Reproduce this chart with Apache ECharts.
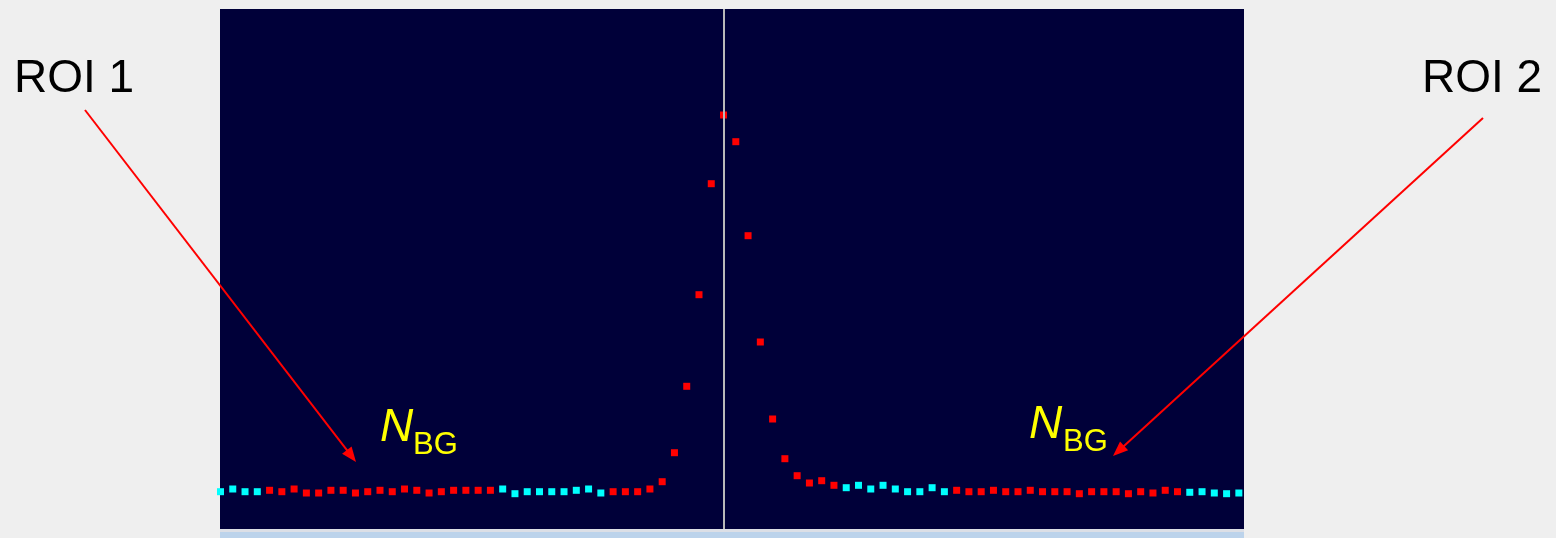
<!DOCTYPE html>
<html>
<head>
<meta charset="utf-8">
<script src="https://cdn.jsdelivr.net/npm/echarts@6/dist/echarts.min.js"></script>
<style>
html,body{margin:0;padding:0;background:#efefef;}
#chart{width:1556px;height:538px;}
</style>
</head>
<body>
<div id="chart"></div>
<script>
// Channel counts, channels 0..83
const counts = [
  37.3, 40, 37.3, 37.3, 38.7, 37.3, 40, 36, 36, 38.7,
  38.7, 36, 37.3, 38.7, 37.3, 40, 38.7, 36, 37.3, 38.7,
  38.7, 38.7, 38.7, 40, 35.3, 37.3, 37.3, 37.3, 37.3, 38.7,
  40, 36, 37.3, 37.3, 37.3, 40, 47.3, 76.3, 142.7, 234.3,
  345.3, 414, 387.3, 293.3, 187, 110, 70.3, 53.3, 46, 48.3,
  43.7, 41.3, 43.7, 40, 43.7, 40, 37.3, 37.3, 41.3, 37.3,
  38.7, 37.3, 37.3, 38.7, 37.3, 37.3, 38.7, 37.3, 37.3, 37.3,
  35.3, 37.3, 37.3, 37.3, 35.3, 37.3, 36, 38.7, 37.3, 36.7,
  37.3, 36, 35.3, 36
];
// Background (cyan) channel ranges [start, end] inclusive
const bgRanges = [[0, 3], [23, 31], [51, 59], [79, 83]];
const centroidChannel = 41;
const roiLabels = ['ROI 1', 'ROI 2'];
const bgLabelMain = 'N';
const bgLabelSub = 'BG';

function isBg(i) { return bgRanges.some(r => i >= r[0] && i <= r[1]); }
const bgData = [], roiData = [];
counts.forEach((v, i) => { (isBg(i) ? bgData : roiData).push([i, v]); });

const chart = echarts.init(document.getElementById('chart'));

function arrow(x1, y1, x2, y2) {
  const len = 15, half = 6;
  const dx = x2 - x1, dy = y2 - y1, d = Math.hypot(dx, dy);
  const ux = dx / d, uy = dy / d;
  const bx = x2 - ux * len, by = y2 - uy * len;
  return [
    { type: 'line', shape: { x1: x1, y1: y1, x2: bx + ux * 2, y2: by + uy * 2 },
      style: { stroke: '#ff0000', lineWidth: 2 }, z: 100 },
    { type: 'polygon', shape: { points: [[x2, y2], [bx - uy * half, by + ux * half], [bx + uy * half, by - ux * half]] },
      style: { fill: '#ff0000' }, z: 100 }
  ];
}

const txt = (x, y, text, size, color, italic) => ({
  type: 'text', left: x, top: y, z: 100,
  style: { text: text, fontSize: size, fill: color, fontFamily: 'Liberation Sans, Arial, sans-serif',
           fontStyle: italic ? 'italic' : 'normal' }
});

chart.setOption({
  animation: false,
  backgroundColor: '#efefef',
  grid: { left: 220, right: 312, top: 9, height: 520, backgroundColor: '#000039', show: true, borderWidth: 0 },
  xAxis: { type: 'value', min: -0.04, max: 83.42, show: false },
  yAxis: { type: 'value', min: 0, max: 520, show: false },
  series: [
    { type: 'scatter', symbol: 'rect', symbolSize: 7, data: roiData, clip: true,
      itemStyle: { color: '#ff0000', opacity: 1 },
      markLine: { silent: true, symbol: 'none', label: { show: false },
        lineStyle: { color: '#b8b8b8', width: 2, type: 'solid' },
        data: [{ xAxis: centroidChannel }] }, z: 3 },
    { type: 'scatter', symbol: 'rect', symbolSize: 7, data: bgData, clip: true,
      itemStyle: { color: '#00ffff', opacity: 1 }, z: 3 }
  ],
  graphic: [
    { type: 'rect', shape: { x: 220, y: 529, width: 1024, height: 3 }, style: { fill: '#dcdfe6' } },
    { type: 'rect', shape: { x: 220, y: 532, width: 1024, height: 6 }, style: { fill: '#bcd3eb' } },
    txt(14, 56, roiLabels[0], 46, '#000000', false),
    txt(1422, 56, roiLabels[1], 46, '#000000', false),
    ...arrow(85, 110, 356, 462),
    ...arrow(1483, 118, 1113, 456),
    txt(380, 405, bgLabelMain, 46, '#ffff00', true),
    txt(413, 430, bgLabelSub, 31, '#ffff00', false),
    txt(1029, 402, bgLabelMain, 46, '#ffff00', true),
    txt(1063, 427, bgLabelSub, 31, '#ffff00', false)
  ]
});
</script>
</body>
</html>
